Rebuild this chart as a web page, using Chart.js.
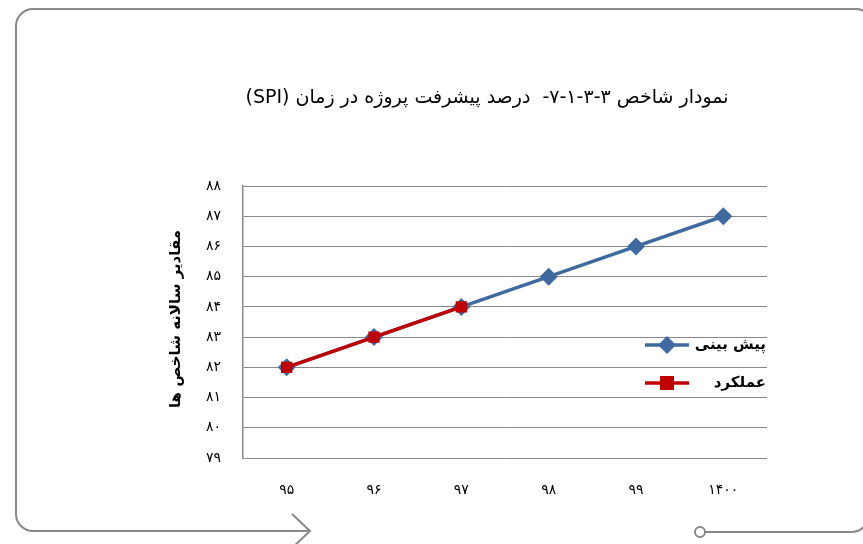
<!DOCTYPE html>
<html><head><meta charset="utf-8">
<script src="https://cdn.jsdelivr.net/npm/chart.js@4/dist/chart.umd.min.js"></script>
<style>html,body{margin:0;padding:0;background:#fff}#wrap{width:863px;height:544px}</style>
</head><body><div id="wrap"><canvas id="c" width="863" height="544"></canvas></div>
<script>
const categories = ['۹۵','۹۶','۹۷','۹۸','۹۹','۱۴۰۰'];
const forecast = [82, 83, 84, 85, 86, 87];
const actual = [82, 83, 84, null, null, null];
const seriesNames = ['پیش بینی', 'عملکرد'];
const titleText = 'نمودار شاخص ۳-۳-۱-۷-  درصد پیشرفت پروژه در زمان (SPI)';
const yTitle = 'مقادیر سالانه شاخص ها';
const yMin = 79, yMax = 88;

const FONT = '"DejaVu Sans", "Noto Sans", sans-serif';
const toFa = n => String(n).replace(/\d/g, d => '۰۱۲۳۴۵۶۷۸۹'[d]);
const BLUE = '#3E6A9F', RED = '#C00000';

const decor = {
  id: 'decor',
  afterDraw(chart) {
    const ctx = chart.ctx;
    ctx.save();
    // frame
    ctx.strokeStyle = '#888';
    ctx.lineWidth = 2;
    ctx.beginPath();
    ctx.moveTo(310, 531);
    ctx.lineTo(33, 531);
    ctx.arcTo(16, 531, 16, 514, 17);
    ctx.lineTo(16, 26);
    ctx.arcTo(16, 9, 33, 9, 17);
    ctx.lineTo(856, 9);
    ctx.arcTo(872, 9, 872, 25, 16);
    ctx.stroke();
    ctx.beginPath();
    ctx.moveTo(292, 514); ctx.lineTo(310, 531); ctx.lineTo(292, 548);
    ctx.stroke();
    ctx.beginPath();
    ctx.arc(700, 532, 5, 0, Math.PI * 2);
    ctx.stroke();
    ctx.beginPath();
    ctx.moveTo(705, 532); ctx.lineTo(852, 532);
    ctx.arcTo(868, 532, 868, 516, 16);
    ctx.stroke();
    // title
    ctx.fillStyle = '#000';
    ctx.font = '19px ' + FONT;
    ctx.textAlign = 'center';
    ctx.textBaseline = 'middle';
    ctx.direction = 'rtl';
    ctx.fillText(titleText, 487, 98);
    // y title
    ctx.save();
    ctx.translate(176, 319);
    ctx.rotate(-Math.PI / 2);
    ctx.font = 'bold 15px ' + FONT;
    ctx.fillText(yTitle, 0, 0);
    ctx.restore();
    // legend
    const items = [
      {y: 345, color: BLUE, style: 'rectRot', name: seriesNames[0]},
      {y: 383, color: RED, style: 'rect', name: seriesNames[1]}
    ];
    items.forEach(it => {
      ctx.strokeStyle = it.color;
      ctx.lineWidth = 3.5;
      ctx.beginPath(); ctx.moveTo(645, it.y); ctx.lineTo(689, it.y); ctx.stroke();
      ctx.fillStyle = it.color;
      if (it.style === 'rect') ctx.fillRect(660, it.y - 7, 14, 14);
      else { ctx.beginPath(); ctx.moveTo(667, it.y - 9); ctx.lineTo(676, it.y); ctx.lineTo(667, it.y + 9); ctx.lineTo(658, it.y); ctx.closePath(); ctx.fill(); }
      ctx.fillStyle = '#000';
      ctx.font = 'bold 15px ' + FONT;
      ctx.textAlign = 'right';
      ctx.direction = 'rtl';
      ctx.fillText(it.name, 766, it.y);
    });
    ctx.restore();
  }
};

new Chart(document.getElementById('c'), {
  type: 'line',
  data: {
    labels: categories,
    datasets: [
      {label: seriesNames[0], data: forecast, borderColor: BLUE, backgroundColor: BLUE, borderWidth: 3.5, order: 2,
       pointStyle: 'rectRot', pointRadius: 9, pointHoverRadius: 9, pointBorderWidth: 0, tension: 0},
      {label: seriesNames[1], data: actual, borderColor: RED, backgroundColor: RED, borderWidth: 3.5, order: 1,
       pointStyle: 'rect', pointRadius: 8, pointHoverRadius: 8, pointBorderWidth: 0, tension: 0, spanGaps: false}
    ]
  },
  options: {
    responsive: false,
    animation: false,
    events: [],
    layout: {padding: {left: 0, right: 96, top: 186, bottom: 0}},
    plugins: {legend: {display: false}, title: {display: false}, tooltip: {enabled: false}},
    scales: {
      x: {
        offset: true,
        grid: {display: false, drawTicks: false},
        border: {display: false},
        ticks: {padding: 24, color: '#000', font: {family: FONT, size: 14}},
        afterFit(s) { s.height = 86; }
      },
      y: {
        min: yMin, max: yMax,
        grid: {color: '#888', lineWidth: 1, drawTicks: false},
        border: {display: true, color: '#888', width: 1.5},
        ticks: {stepSize: 1, padding: 22, color: '#000', font: {family: FONT, size: 14}, callback: v => toFa(v)},
        afterFit(s) { s.width = 243; }
      }
    }
  },
  plugins: [decor]
});
</script>
</body></html>
